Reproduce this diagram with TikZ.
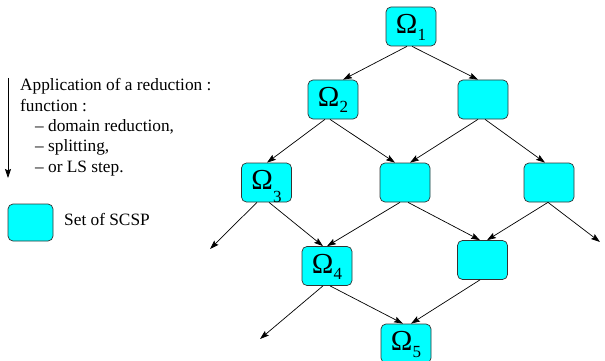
\documentclass[tikz,border=0pt]{standalone}
\usepackage{fontspec}
\setmainfont{Liberation Serif}
\usetikzlibrary{arrows.meta}
\definecolor{scspcyan}{RGB}{0,255,255}
% Omega with a lowered subscript: #1 = index, #2 = drop of the index in pt
\newcommand\omsub[2]{{\fontsize{29}{29}\selectfont Ω}\raisebox{-#2pt}{\fontsize{17}{17}\selectfont #1}}
\begin{document}
\begin{tikzpicture}[x=1pt,y=-1pt,
  setbox/.style={draw=black!80, line width=0.7pt, fill=scspcyan, rounded corners=5pt,
    minimum width=50pt, minimum height=39pt, inner sep=0pt,
    text height=19pt, text depth=5pt},
  flow/.style={line width=0.7pt, -{Stealth[length=9pt,width=6pt,inset=1.5pt]}},
  legend/.style={font=\fontsize{17.3}{20}\selectfont, inner sep=0pt, anchor=base west},
  ]
\useasboundingbox (0,0) rectangle (605,361);

% lattice of constraint problems
\node[setbox] (b1)  at (411,26.5)   {\omsub{1}{7}};
\node[setbox] (b2l) at (333,99.5)   {\omsub{2}{6}};
\node[setbox] (b2r) at (483,99.5)   {};
\node[setbox] (b3l) at (266.5,182.5){\omsub{3}{13}};
\node[setbox] (b3m) at (405,182.5)  {};
\node[setbox] (b3r) at (549,182.5)  {};
\node[setbox] (b4l) at (327,266)    {\omsub{4}{6}};
\node[setbox] (b4r) at (482.5,260)  {};
\node[setbox] (b5)  at (406,343.5)  {\omsub{5}{7}};

% open ends of the search
\coordinate (e1) at (210,249);
\coordinate (e2) at (600,242);
\coordinate (e3) at (260,339);

\draw[flow] ([xshift=-4pt]b1.south)   -- ([xshift=10pt]b2l.north);
\draw[flow] ([xshift=1pt]b1.south)    -- ([xshift=-5pt]b2r.north);
\draw[flow] ([xshift=-8pt]b2l.south)  -- ([xshift=0.5pt]b3l.north);
\draw[flow] ([xshift=-3pt]b2l.south)  -- ([xshift=-10pt]b3m.north);
\draw[flow] ([xshift=-5pt]b2r.south)  -- ([xshift=5pt]b3m.north);
\draw[flow] ([xshift=2pt]b2r.south)   -- ([xshift=-4pt]b3r.north);
\draw[flow] ([xshift=-9.5pt]b3l.south)-- (e1);
\draw[flow] ([xshift=2.5pt]b3l.south) -- ([xshift=-4pt]b4l.north);
\draw[flow] ([xshift=-5pt]b3m.south)  -- ([xshift=0pt]b4l.north);
\draw[flow] ([xshift=3pt]b3m.south)   -- ([xshift=-2.5pt]b4r.north);
\draw[flow] ([xshift=-1pt]b3r.south)  -- ([xshift=4.5pt]b4r.north);
\draw[flow] ([xshift=-1pt]b3r.south)  -- (e2);
\draw[flow] ([xshift=-4pt]b4l.south)  -- (e3);
\draw[flow] ([xshift=3pt]b4l.south)   -- ([xshift=-3pt]b5.north);
\draw[flow] ([xshift=-2.5pt]b4r.south)-- ([xshift=5pt]b5.north);

% legend
\coordinate (lt) at (8,78);
\coordinate (lb) at (8,178);
\draw[flow] (lt) -- (lb);
\node[legend] (l1) at (20,91)  {Application of a reduction :};
\node[legend] (l2) at (20,111) {function :};
\node[legend] (l3) at (35,131) {– domain reduction,};
\node[legend] (l4) at (35,151) {– splitting,};
\node[legend] (l5) at (35,172) {– or LS step.};

\node[setbox, minimum width=45pt, minimum height=37pt] (key) at (30.5,222.5) {};
\node[legend] (keytext) at (64,225) {Set of SCSP};
\end{tikzpicture}
\end{document}
